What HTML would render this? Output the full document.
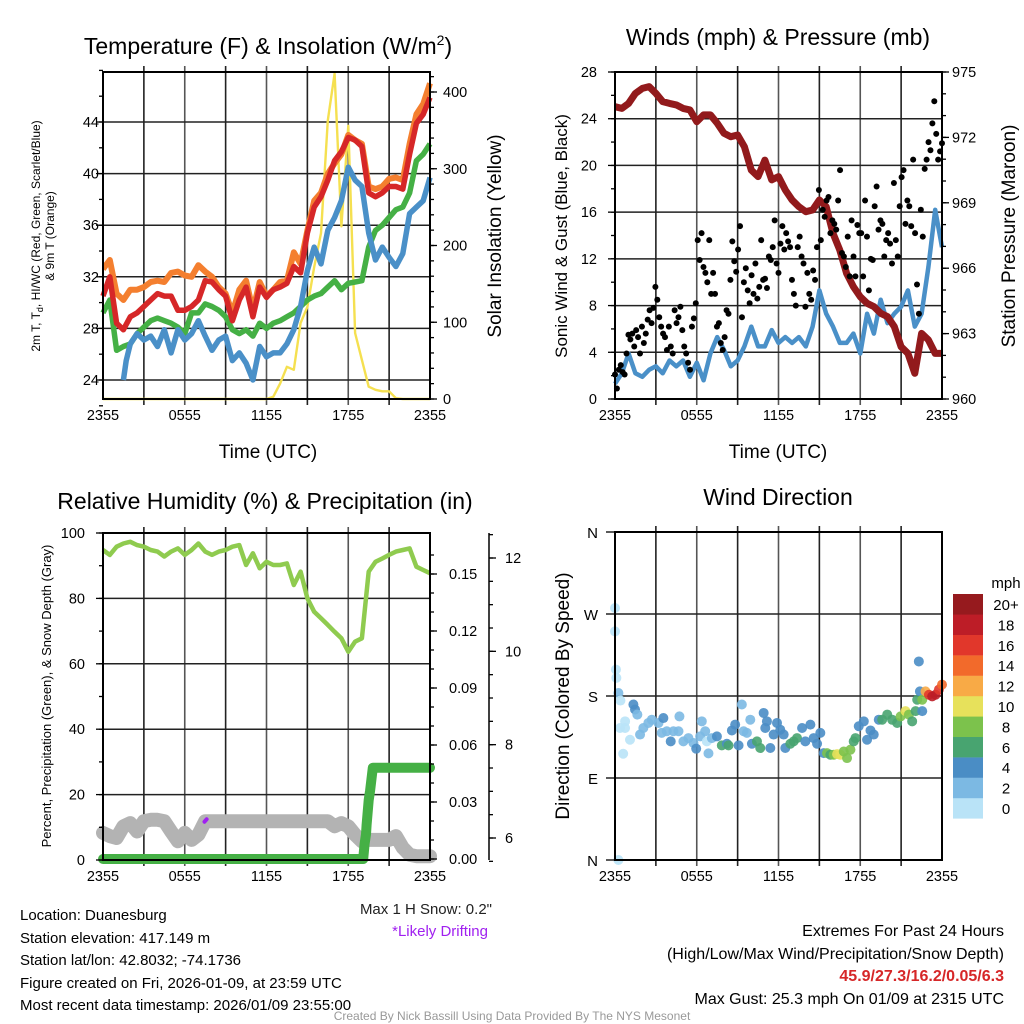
<!DOCTYPE html>
<html><head><meta charset="utf-8">
<style>
html,body{margin:0;padding:0;background:#fff;}
svg{display:block;font-family:"Liberation Sans",Arial,sans-serif;}
</style></head>
<body>
<svg id="chart" width="1024" height="1024" viewBox="0 0 1024 1024" xmlns="http://www.w3.org/2000/svg">
<rect width="1024" height="1024" fill="#fff"/>
<g id="grids"></g>
<g id="series"></g>
<g id="axes"></g>
<text x="268" y="54" font-size="23" text-anchor="middle">Temperature (F) &amp; Insolation (W/m<tspan dy="-9" font-size="14">2</tspan><tspan dy="9">)</tspan></text>
<text x="778" y="45" font-size="23" text-anchor="middle">Winds (mph) &amp; Pressure (mb)</text>
<text x="265" y="509" font-size="23" text-anchor="middle">Relative Humidity (%) &amp; Precipitation (in)</text>
<text x="778" y="505" font-size="23" text-anchor="middle">Wind Direction</text>
<text x="268" y="458" font-size="19" text-anchor="middle">Time (UTC)</text>
<text x="778" y="458" font-size="19" text-anchor="middle">Time (UTC)</text>
<text font-size="12" text-anchor="middle" transform="translate(40,236) rotate(-90)">2m T, T<tspan dy="3" font-size="9">d</tspan><tspan dy="-3">, HI/WC (Red, Green, Scarlet/Blue)</tspan></text>
<text font-size="12" text-anchor="middle" transform="translate(54,236) rotate(-90)">&amp; 9m T (Orange)</text>
<text font-size="19" text-anchor="middle" transform="translate(501,236) rotate(-90)">Solar Insolation (Yellow)</text>
<text font-size="17" text-anchor="middle" transform="translate(567,236) rotate(-90)">Sonic Wind &amp; Gust (Blue, Black)</text>
<text font-size="19" text-anchor="middle" transform="translate(1015,236) rotate(-90)">Station Pressure (Maroon)</text>
<text font-size="13" text-anchor="middle" transform="translate(51,696) rotate(-90)">Percent, Precipitation (Green), &amp; Snow Depth (Gray)</text>
<text font-size="19" text-anchor="middle" transform="translate(569,696) rotate(-90)">Direction (Colored By Speed)</text>
<text x="492" y="914" font-size="15" text-anchor="end" fill="#222">Max 1 H Snow: 0.2"</text>
<text x="488" y="936" font-size="15" text-anchor="end" fill="#a020f0">*Likely Drifting</text>
<g font-size="15" fill="#000">
<text x="20" y="920">Location: Duanesburg</text>
<text x="20" y="943">Station elevation: 417.149 m</text>
<text x="20" y="965">Station lat/lon: 42.8032; -74.1736</text>
<text x="20" y="988">Figure created on Fri, 2026-01-09, at 23:59 UTC</text>
<text x="20" y="1010">Most recent data timestamp: 2026/01/09 23:55:00</text>
</g>
<g font-size="16" text-anchor="end">
<text x="1004" y="936">Extremes For Past 24 Hours</text>
<text x="1004" y="959">(High/Low/Max Wind/Precipitation/Snow Depth)</text>
<text x="1004" y="981" fill="#d62728" font-weight="bold">45.9/27.3/16.2/0.05/6.3</text>
<text x="1004" y="1004">Max Gust: 25.3 mph On 01/09 at 2315 UTC</text>
</g>
<text x="512" y="1020" font-size="12" text-anchor="middle" fill="#999">Created By Nick Bassill Using Data Provided By The NYS Mesonet</text>
</svg>
<script>
// ---------- DATA ----------
const hourTimes = [0,0.5,1,1.5,2,2.5,3,3.5,4,4.5,5,5.5,6,6.5,7,7.5,8,8.5,9,9.5,10,10.5,11,11.5,12,12.5,13,13.5,14,14.5,15,15.5,16,16.5,17,17.5,18,18.5,19,19.5,20,20.5,21,21.5,22,22.5,23,23.5,24];
const xTickLabels = ['2355','0555','1155','1755','2355'];
const temp9m = [32.6,33.3,30.7,30.2,31.0,31.0,31.2,31.6,31.7,31.6,32.3,32.4,32.1,32.0,32.9,32.4,32.0,31.2,30.7,29.2,31.0,31.7,29.4,31.6,30.5,31.0,31.6,31.7,33.9,33.0,35.6,37.9,38.5,40.0,40.8,41.5,43.0,42.6,42.3,39.0,38.8,39.0,39.6,39.7,39.5,42.3,44.6,45.4,47.0];
const tempRed = [30.5,32.0,28.4,27.9,28.9,29.2,29.7,30.2,30.7,30.5,30.5,29.4,29.4,29.7,30.2,31.7,31.6,31.0,30.5,28.6,30.2,31.2,28.9,31.2,30.4,31.0,31.2,31.5,32.8,32.3,35.4,37.4,38.2,39.5,41.0,41.7,42.8,42.6,42.1,38.5,38.2,38.5,39.0,39.0,38.8,41.5,43.9,44.6,45.9];
const dewGreen = [29.2,30.2,26.3,26.6,26.8,27.6,28.1,28.6,28.8,28.6,28.4,28.1,27.6,29.2,29.2,29.9,29.7,29.4,28.9,27.9,27.6,27.9,27.4,28.4,28.0,28.4,28.6,28.9,29.2,29.7,30.2,30.5,30.7,31.2,31.7,31.0,31.5,31.6,31.7,34.3,35.6,36.0,36.6,37.2,37.4,38.5,41.0,41.5,42.3];
const wcTimes = [1.5,1.7,2,2.5,3,3.5,4,4.5,5,5.5,6,6.5,7,7.5,8,8.5,9,9.5,10,10.5,11,11.5,12,12.5,13,13.5,14,14.5,15,15.5,16,16.5,17,17.5,18,18.5,19,19.5,20,20.5,21,21.5,22,22.5,23,23.5,24];
const wcBlue = [24.0,25.5,26.8,27.6,27.1,27.4,26.6,27.9,26.1,27.9,27.1,27.6,28.6,27.4,26.3,27.1,27.4,25.5,26.1,25.3,24.0,26.6,25.8,26.1,26.1,26.8,27.9,29.7,32.5,34.3,33.0,35.6,36.6,37.9,40.5,39.5,39.0,35.4,33.3,34.3,33.5,32.8,33.8,36.9,37.4,37.9,39.7];
const insolation = [0,0,0,0,0,0,0,0,0,0,0,0,0,0,0,0,0,0,0,0,0,0,0,0,0,3,20,42,38,99,120,172,216,363,424,225,356,86,51,16,12,10,10,1,0,0,0,0,0];
const tempTicks = [24,28,32,36,40,44];
const insTicks = [0,100,200,300,400];

const windSonic = [1.3,2.2,3.9,2.2,1.9,2.5,2.8,2.2,3.3,2.8,3.3,1.9,3.1,1.6,3.9,5.3,4.2,2.8,3.3,4.5,6.2,4.5,4.5,5.9,4.8,5.3,4.8,5.3,4.5,6.2,9.3,7.3,6.2,4.8,4.8,5.6,3.9,7.3,5.6,8.5,6.5,7.3,7.9,9.3,6.2,7.3,11.3,16.2,13.0];
const pressure = [973.41,973.33,973.56,974.02,974.25,974.33,974.02,973.64,973.56,973.49,973.33,973.26,972.72,973.03,973.03,972.65,972.19,972.03,972.11,971.57,970.50,970.20,970.96,970.05,970.20,969.59,969.13,968.82,968.59,968.67,969.13,968.82,967.60,966.83,965.76,965.15,964.69,964.39,964.24,963.93,963.78,963.32,962.40,962.09,961.18,963.01,962.71,962.09,962.09];
const gustValues = [2.1,0.9,2.5,2.9,2.3,2.1,3.9,5.5,5.1,5.6,4.5,5.9,5.3,3.9,6.2,4.8,5.6,6.8,7.6,6.5,7.8,9.6,8.5,7.0,6.2,5.6,5.3,4.2,6.2,4.5,3.9,7.6,6.5,7.0,7.9,5.9,4.5,3.9,3.1,2.5,6.2,6.9,8.2,13.6,11.9,14.2,11.3,10.8,10.0,13.6,9.0,10.8,9.0,6.2,6.5,4.8,4.2,5.3,7.6,7.3,10.2,13.5,11.8,10.9,12.8,14.8,7.0,10.0,11.2,9.3,8.2,10.6,9.0,11.6,8.6,9.6,13.6,10.2,10.3,9.5,12.2,11.9,13.0,15.3,11.6,10.8,13.3,14.8,12.8,14.2,13.5,13.0,10.2,9.0,8.0,13.0,13.9,12.2,11.6,7.9,10.8,9.0,8.5,11.0,10.2,13.0,17.9,13.6,16.2,15.6,17.0,17.3,14.2,15.3,15.0,14.5,17.0,19.6,12.5,12.2,11.3,13.9,10.5,15.3,12.2,10.5,14.9,14.2,14.2,10.5,17.0,13.9,9.3,12.0,11.9,16.5,18.2,14.5,15.3,15.0,12.2,13.6,14.2,13.3,11.6,18.5,13.6,12.2,16.5,19.0,19.6,15.0,17.0,16.5,14.8,20.5,14.2,9.8,7.3,16.2,13.9,19.7,20.5,22.0,21.3,23.6,25.5,22.7,20.5,21.2,21.9];
const windTicks = [0,4,8,12,16,20,24,28];
const presTicks = [960,963,966,969,972,975];

const rhValues = [94.8,93.3,95.8,96.8,97.3,96.3,95.8,94.8,94.3,92.8,94.3,95.3,93.3,94.8,96.8,94.3,93.3,94.3,94.8,95.8,96.3,90.2,93.8,89.2,91.2,90.2,90.2,90.7,84.1,88.2,80.0,75.9,73.9,71.9,69.8,67.8,63.7,66.8,67.8,88.2,91.2,92.2,93.3,94.3,94.8,95.3,89.7,88.7,87.7];
const precipTimes = [0,19.1,19.2,19.3,19.35,19.5,19.6,19.8,24];
const precipValues = [0,0,0.008,0.013,0.018,0.031,0.036,0.048,0.048];
const snowDepth = [6.11,6.04,6.0,6.25,6.32,6.14,6.36,6.39,6.39,6.36,6.14,5.93,6.11,5.96,6.07,6.36,6.36,6.36,6.36,6.36,6.36,6.36,6.36,6.36,6.36,6.36,6.36,6.36,6.36,6.36,6.36,6.36,6.36,6.36,6.25,6.32,6.25,6.07,5.93,5.96,5.96,5.96,5.96,6.04,5.79,5.64,5.61,5.61,5.61];
const driftTimes = [7.45,7.6];
const driftValues = [6.35,6.4];
const rhTicks = [0,20,40,60,80,100];
const precipTicks = [0,0.03,0.06,0.09,0.12,0.15];
const snowTicks = [6,8,10,12];

const dirTimes = [0,0,0.07,0.1,0.25,0.4,0.37,0.74,1.1,0.74,0.6,1.35,1.47,1.64,1.84,2.08,2.45,2.7,3.19,3.43,3.55,3.8,4.09,4.29,4.66,4.73,5.02,5.39,5.76,5.96,6.25,6.37,6.62,6.74,6.86,7.11,7.48,7.84,8.21,8.33,8.58,8.82,9.07,9.31,9.44,9.68,9.93,10.05,10.42,10.66,10.91,11.03,11.15,11.4,11.64,11.89,12.13,12.38,12.5,12.87,13.11,13.36,13.73,13.97,14.34,14.58,14.83,15.07,15.32,15.56,15.81,16.05,16.3,16.54,16.79,17.03,17.28,17.52,17.65,17.89,18.26,18.5,18.75,18.99,19.36,19.61,19.98,20.34,20.71,20.96,21.32,21.57,21.81,22.06,22.18,22.3,22.38,22.55,22.55,22.79,23.04,23.28,23.53,23.77,24,0.25];
const dirDegrees = [276.6,250.9,209,199.9,183.3,175,144.9,152.2,132,144.9,116.6,170.7,165.2,159.6,137.7,144.9,150.4,154,150.4,139.5,155.8,141.3,130.2,141.3,141.3,157.6,130.2,133.8,128.4,122.2,135.7,152.2,141.3,130.2,117,133.8,135.7,125.8,127.6,125.8,142.2,148.6,125.8,170.7,141.3,139.5,154,127.6,130.2,122.9,161.4,144.9,152.2,122.9,137.7,150.4,143,137.7,122.9,127.6,130.2,133.8,144.9,130.2,148.6,133.8,127.6,139.5,117.3,117.3,115.5,115.5,116.2,115.5,119.1,111.9,121.1,130.2,133.8,146.8,152.2,132,142.2,137.7,154,154,159.6,154,150.4,157.6,163.4,159.6,152.2,163.4,175.9,217.9,185.1,175.9,163.4,185.1,181.4,179.6,181.4,187,192.5,0];
const dirSpeeds = [1,1,1,1,3,1,1,1,1,1,1,5,5,3,3,3,3,3,3,3,5,3,5,3,3,3,3,3,3,5,3,3,3,1,3,3,5,7,5,7,5,5,5,3,3,3,3,5,7,7,5,5,5,5,5,5,5,5,5,7,7,7,5,5,5,5,5,5,5,9,7,9,11,11,9,9,9,7,7,5,5,5,5,5,5,7,7,7,7,9,11,9,7,7,7,5,5,9,5,13,17,19,19,17,15,1];
const speedColors = ['#b9e3f7','#7cb9e3','#4a8dc5','#48a470','#7cc24c','#e7e15b','#f8aa46','#f26a2b','#e1372b','#bd1d27','#961a1e'];
const speedLabels = ['0','2','4','6','8','10','12','14','16','18','20+'];
const dirTicks = [0,90,180,270,360];
const dirLabels = ['N','E','S','W','N'];

// ---------- HELPERS ----------
const NS = 'http://www.w3.org/2000/svg';
const gGrid = document.getElementById('grids');
const gSer = document.getElementById('series');
const gAx = document.getElementById('axes');
function mk(parent, tag, attrs, name) {
  const el = document.createElementNS(NS, tag);
  for (const k in attrs) el.setAttribute(k, attrs[k]);
  
  
  parent.appendChild(el);
  return el;
}
function txt(str, x, y, anchor, size, name, fill) {
  const el = mk(gAx, 'text', {x: x, y: y, 'text-anchor': anchor, 'font-size': size, fill: fill || '#000'}, name);
  el.textContent = str;
  return el;
}
function linear(d0, d1, r0, r1) { return v => r0 + (v - d0) * (r1 - r0) / (d1 - d0); }
function pathFrom(xs, ys, fx, fy) {
  let d = '';
  for (let i = 0; i < xs.length; i++) d += (i ? 'L' : 'M') + fx(xs[i]).toFixed(1) + ' ' + fy(ys[i]).toFixed(1);
  return d;
}
function frame(P, prefix) {
  const fx = linear(0, 24, P.x0, P.x1);
  for (let i = 1; i < 8; i++) {
    const x = fx(i * 3);
    mk(gGrid, 'line', {x1: x, x2: x, y1: P.y0 - 6, y2: P.y1 + 6, stroke: i % 2 ? '#222' : '#555', 'stroke-width': 1.6}, prefix + '-v-gridline');
  }
  for (let i = 0; i < 5; i++) {
    txt(xTickLabels[i], fx(i * 6), P.y1 + 21, 'middle', 14.5, prefix + '-x-tick-label');
  }
  mk(gAx, 'rect', {x: P.x0, y: P.y0, width: P.x1 - P.x0, height: P.y1 - P.y0, fill: 'none', stroke: '#000', 'stroke-width': 2}, prefix + '-plot-frame');
  return fx;
}
function hgrid(P, y, prefix) {
  mk(gGrid, 'line', {x1: P.x0, x2: P.x1, y1: y, y2: y, stroke: '#222', 'stroke-width': 1.5}, prefix + '-h-gridline');
}
function tick(x, y, dx, name) {
  mk(gAx, 'line', {x1: x, x2: x + dx, y1: y, y2: y, stroke: '#000', 'stroke-width': 1.3}, name);
}

// ---------- PANEL 1 : Temperature ----------
const P1 = {x0: 103, x1: 430, y0: 72, y1: 399};
const fx1 = frame(P1, 'temp');
const fyT = linear(24, 44, 380, 122);
const fyI = linear(0, 400, 399, 92);
tempTicks.forEach(v => { hgrid(P1, fyT(v), 'temp'); tick(P1.x0, fyT(v), -7, 'temp-y-tick'); txt(String(v), 99, fyT(v) + 5, 'end', 14.5, 'temp-y-tick-label'); });
for (let v = 22; v <= 48; v += 2) tick(P1.x0, fyT(v), -4, 'temp-y-minor-tick');
insTicks.forEach(v => { tick(P1.x1, fyI(v), 7, 'insolation-y-tick'); txt(String(v), 443, fyI(v) + 5, 'start', 14.5, 'insolation-y-tick-label'); });
for (let v = 0; v <= 420; v += 20) tick(P1.x1, fyI(v), 4, 'insolation-y-minor-tick');
const clip1 = mk(gSer, 'clipPath', {id: 'c1'}, 'temp-clip');
mk(clip1, 'rect', {x: P1.x0, y: P1.y0 - 4, width: P1.x1 - P1.x0 + 4, height: P1.y1 - P1.y0 + 8}, 'temp-clip-rect');
mk(gSer, 'path', {d: pathFrom(hourTimes, insolation, fx1, fyI), fill: 'none', stroke: '#f5e050', 'stroke-width': 2.4, 'stroke-linejoin': 'round'}, 'insolation-line');
mk(gSer, 'path', {d: pathFrom(hourTimes, temp9m, fx1, fyT), fill: 'none', stroke: '#f47f2f', 'stroke-width': 6, 'stroke-linejoin': 'round', 'clip-path': 'url(#c1)'}, 'temp-9m-line');
mk(gSer, 'path', {d: pathFrom(hourTimes, dewGreen, fx1, fyT), fill: 'none', stroke: '#45b045', 'stroke-width': 5.5, 'stroke-linejoin': 'round'}, 'dewpoint-line');
mk(gSer, 'path', {d: pathFrom(wcTimes, wcBlue, fx1, fyT), fill: 'none', stroke: '#4a90c8', 'stroke-width': 5.5, 'stroke-linejoin': 'round'}, 'windchill-line');
mk(gSer, 'path', {d: pathFrom(hourTimes, tempRed, fx1, fyT), fill: 'none', stroke: '#d62728', 'stroke-width': 5.5, 'stroke-linejoin': 'round'}, 'temp-2m-line');

// ---------- PANEL 2 : Winds ----------
const P2 = {x0: 615, x1: 942, y0: 72, y1: 399};
const fx2 = frame(P2, 'wind');
const fyW = linear(0, 28, 399, 72);
const fyP = linear(960, 975, 399, 72);
windTicks.forEach(v => { hgrid(P2, fyW(v), 'wind'); tick(P2.x0, fyW(v), -7, 'wind-y-tick'); txt(String(v), 597, fyW(v) + 5, 'end', 14.5, 'wind-y-tick-label'); });
for (let v = 0; v <= 28; v += 2) tick(P2.x0, fyW(v), -4, 'wind-y-minor-tick');
presTicks.forEach(v => { tick(P2.x1, fyP(v), 7, 'pressure-y-tick'); txt(String(v), 952, fyP(v) + 5, 'start', 14.5, 'pressure-y-tick-label'); });
for (let v = 960; v <= 975; v += 1) tick(P2.x1, fyP(v), 4, 'pressure-y-minor-tick');
mk(gSer, 'path', {d: pathFrom(hourTimes, windSonic, fx2, fyW), fill: 'none', stroke: '#4a90c8', 'stroke-width': 4.5, 'stroke-linejoin': 'round'}, 'sonic-wind-line');
mk(gSer, 'path', {d: pathFrom(hourTimes, pressure, fx2, fyP), fill: 'none', stroke: '#921a1c', 'stroke-width': 7, 'stroke-linejoin': 'round'}, 'pressure-line');
gustValues.forEach((v, i) => {
  const t = i * 24 / (gustValues.length - 1);
  mk(gSer, 'circle', {cx: fx2(t), cy: fyW(v), r: 3, fill: '#000'}, 'gust-point');
});

// ---------- PANEL 3 : RH ----------
const P3 = {x0: 103, x1: 430, y0: 533, y1: 860};
const fx3 = frame(P3, 'rh');
const fyR = linear(0, 100, 860, 533);
const fyPr = linear(0, 0.15, 859, 574);
const fyS = linear(6, 12, 838, 558);
rhTicks.forEach(v => { hgrid(P3, fyR(v), 'rh'); tick(P3.x0, fyR(v), -7, 'rh-y-tick'); txt(String(v), 85, fyR(v) + 5, 'end', 14.5, 'rh-y-tick-label'); });
for (let v = 0; v <= 100; v += 10) tick(P3.x0, fyR(v), -4, 'rh-y-minor-tick');
precipTicks.forEach(v => { tick(P3.x1, fyPr(v), 7, 'precip-y-tick'); txt(v.toFixed(2), 449, fyPr(v) + 5, 'start', 14.5, 'precip-y-tick-label'); });
for (let v = 0; v <= 0.165; v += 0.01) tick(P3.x1, fyPr(v), 4, 'precip-y-minor-tick');
mk(gAx, 'line', {x1: 489, x2: 489, y1: 533, y2: 860, stroke: '#000', 'stroke-width': 1.5}, 'snow-y-axis-line');
snowTicks.forEach(v => { tick(489, fyS(v), 7, 'snow-y-tick'); txt(String(v), 505, fyS(v) + 5, 'start', 14.5, 'snow-y-tick-label'); });
for (let v = 5.5; v <= 12.5; v += 0.5) tick(489, fyS(v), 4, 'snow-y-minor-tick');
mk(gSer, 'path', {d: pathFrom(hourTimes, snowDepth, fx3, fyS), fill: 'none', stroke: '#b3b3b3', 'stroke-width': 14, 'stroke-linejoin': 'round', 'stroke-linecap': 'round'}, 'snow-depth-line');
mk(gSer, 'path', {d: pathFrom(driftTimes, driftValues, fx3, fyS), fill: 'none', stroke: '#a020f0', 'stroke-width': 4, 'stroke-linecap': 'round'}, 'drifting-marker');
mk(gSer, 'path', {d: pathFrom(precipTimes, precipValues, fx3, fyPr), fill: 'none', stroke: '#45b045', 'stroke-width': 10, 'stroke-linejoin': 'round', 'stroke-linecap': 'round'}, 'precip-line');
mk(gSer, 'path', {d: pathFrom(hourTimes, rhValues, fx3, fyR), fill: 'none', stroke: '#8fcb4f', 'stroke-width': 4.5, 'stroke-linejoin': 'round'}, 'rh-line');

// ---------- PANEL 4 : Direction ----------
const P4 = {x0: 615, x1: 942, y0: 532, y1: 860};
const fx4 = frame(P4, 'dir');
const fyD = linear(0, 360, 860, 532);
dirTicks.forEach((v, i) => { hgrid(P4, fyD(v), 'dir'); tick(P4.x0, fyD(v), -9, 'dir-y-tick'); txt(dirLabels[i], 598, fyD(v) + 6, 'end', 15, 'dir-y-tick-label'); });
dirDegrees.forEach((d, i) => {
  const bin = Math.min(10, Math.floor(dirSpeeds[i] / 2));
  mk(gSer, 'circle', {cx: fx4(dirTimes[i]), cy: fyD(d), r: 5, fill: speedColors[bin], 'fill-opacity': 0.9}, 'direction-point');
});
// colorbar
txt('mph', 1006, 588, 'middle', 15, 'colorbar-title');
speedColors.forEach((c, i) => {
  const yTop = 594 + (10 - i) * 20.4;
  mk(gAx, 'rect', {x: 953, y: yTop, width: 30, height: 20.6, fill: c}, 'colorbar-box');
  txt(speedLabels[i], 1006, yTop + 16, 'middle', 15, 'colorbar-label');
});
</script>
</body></html>
